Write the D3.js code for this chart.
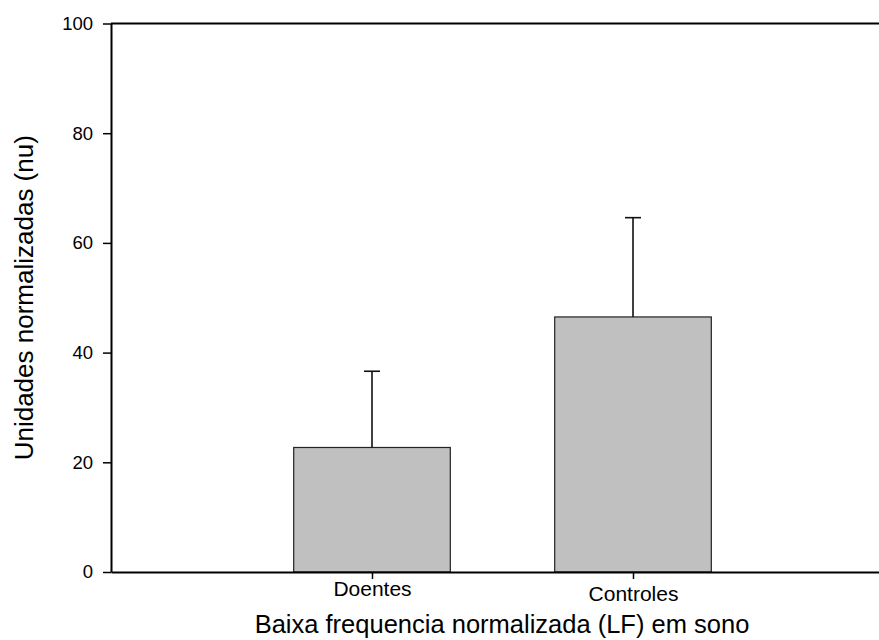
<!DOCTYPE html>
<html>
<head>
<meta charset="utf-8">
<script src="https://cdn.jsdelivr.net/npm/d3@7"></script>
<style>
  html, body { margin: 0; padding: 0; background: #fff; }
  svg { display: block; font-family: "Liberation Sans", Arial, Helvetica, sans-serif; }
</style>
</head>
<body>
<svg id="chart" width="879" height="640"></svg>
<script>
// ---- data ----
const categories = ["Doentes", "Controles"];
const means = [22.7, 46.5];
const errors = [13.9, 18.1];
const yTicks = [0, 20, 40, 60, 80, 100];
const xTitle = "Baixa frequencia normalizada (LF) em sono";
const yTitle = "Unidades normalizadas (nu)";

// ---- layout ----
const W = 879, H = 640;
const mLeft = 111, mTop = 23.5, mBottom = 572;
const svg = d3.select("#chart");

const x = d3.scaleLinear().domain([0, 3]).range([mLeft, mLeft + 3 * 261]);
const y = d3.scaleLinear().domain([0, 100]).range([mBottom, mTop]);
const barW = x(0.6) - x(0);

// bars
svg.append("g").selectAll("rect").data(categories).join("rect")
  .attr("x", (d, i) => x(i + 1) - barW / 2)
  .attr("y", (d, i) => y(means[i]))
  .attr("width", barW)
  .attr("height", (d, i) => y(0) - y(means[i]))
  .attr("fill", "#c0c0c0")
  .attr("stroke", "#222")
  .attr("stroke-width", 1.2);

// error bars (upward)
const eg = svg.append("g").attr("stroke", "#111").attr("stroke-width", 1.6);
categories.forEach((c, i) => {
  const cx = x(i + 1);
  eg.append("line").attr("x1", cx).attr("x2", cx)
    .attr("y1", y(means[i])).attr("y2", y(means[i] + errors[i]));
  eg.append("line").attr("x1", cx - 8).attr("x2", cx + 8)
    .attr("y1", y(means[i] + errors[i])).attr("y2", y(means[i] + errors[i]));
});

// top frame line
svg.append("line")
  .attr("x1", mLeft).attr("x2", W + 5)
  .attr("y1", y(100)).attr("y2", y(100))
  .attr("stroke", "#000").attr("stroke-width", 2);

// y axis
const yAxis = d3.axisLeft(y).tickValues(yTicks).tickSize(8).tickPadding(10).tickSizeOuter(0);
const gy = svg.append("g").attr("transform", `translate(${mLeft},0)`).call(yAxis);
gy.select(".domain").attr("stroke", "#000").attr("stroke-width", 2);
gy.selectAll(".tick line").attr("stroke", "#000").attr("stroke-width", 1.5);
gy.selectAll(".tick text").attr("font-size", 18.5).attr("fill", "#000")
  .attr("font-family", "Liberation Sans, Arial, sans-serif");

// x axis
const xAxis = d3.axisBottom(x).tickValues([1, 2]).tickFormat(d => categories[d - 1])
  .tickSize(7).tickSizeOuter(0);
const gx = svg.append("g").attr("transform", `translate(0,${mBottom})`).call(xAxis);
gx.select(".domain").attr("stroke", "#000").attr("stroke-width", 2);
gx.selectAll(".tick line").attr("stroke", "#000").attr("stroke-width", 1.5);
gx.selectAll(".tick text").attr("font-size", 21).attr("fill", "#000")
  .attr("font-family", "Liberation Sans, Arial, sans-serif")
  .attr("dy", null)
  .attr("y", (d, i) => 24 + i * 4.5)
  .attr("dominant-baseline", "auto");

// axis titles
svg.append("text")
  .attr("x", (mLeft + 894) / 2 - 0.5).attr("y", 633)
  .attr("text-anchor", "middle").attr("font-size", 25.5).attr("fill", "#000")
  .text(xTitle);

svg.append("text")
  .attr("transform", `translate(32.5,${(mTop + mBottom) / 2}) rotate(-90)`)
  .attr("text-anchor", "middle").attr("font-size", 26).attr("fill", "#000")
  .text(yTitle);
</script>
</body>
</html>
